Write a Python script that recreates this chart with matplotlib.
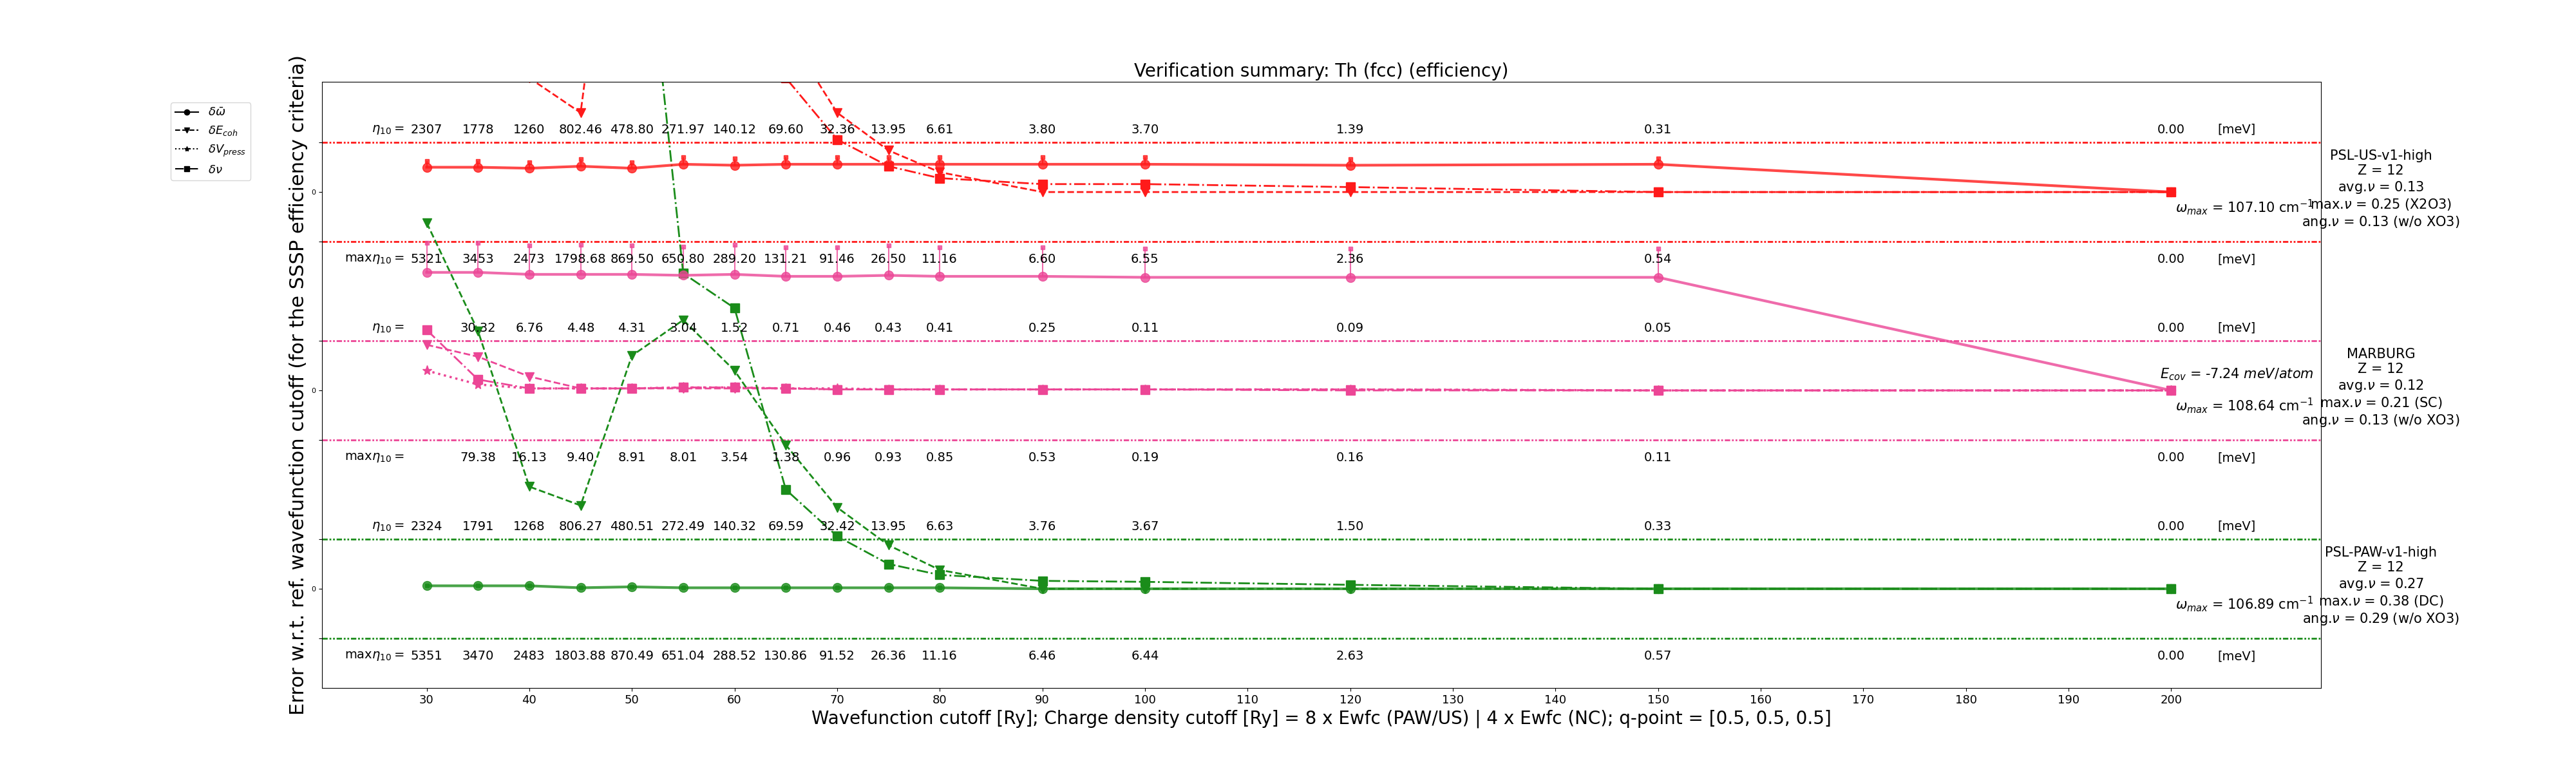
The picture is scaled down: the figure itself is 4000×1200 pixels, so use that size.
import numpy as np
import matplotlib
matplotlib.use("Agg")
import matplotlib.pyplot as plt
from matplotlib.lines import Line2D

# cutoffs
cutoffs = [30, 35, 40, 45, 50, 55, 60, 65, 70, 75, 80, 90, 100, 120, 150, 200]

# pseudos (top -> bottom), offsets in band units
names = ["PSL-US-v1-high", "MARBURG", "PSL-PAW-v1-high"]
colors = ["#ff1a1a", "#ec4696", "#1a8c1a"]
offsets = [4, 2, 0]

# normalized curves
omega = [
    [0.25, 0.25, 0.24, 0.26, 0.24, 0.28, 0.27, 0.28, 0.28, 0.28, 0.28, 0.28, 0.28, 0.27, 0.28, 0.0],
    [1.19, 1.19, 1.17, 1.17, 1.17, 1.16, 1.17, 1.15, 1.15, 1.16, 1.15, 1.15, 1.14, 1.14, 1.14, 0.0],
    [0.03, 0.03, 0.03, 0.01, 0.02, 0.01, 0.01, 0.01, 0.01, 0.01, 0.01, 0.0, 0.0, 0.0, 0.0, 0.0],
]
omega_err = [
    [0.06, 0.06, 0.06, 0.07, 0.06, 0.07, 0.07, 0.07, 0.07, 0.07, 0.07, 0.07, 0.07, 0.06, 0.06, 0.0],
    [0.30, 0.30, 0.29, 0.30, 0.29, 0.29, 0.30, 0.29, 0.29, 0.30, 0.29, 0.29, 0.29, 0.29, 0.29, 0.0],
    [0.0] * 16,
]
ecoh = [
    [2.0, 1.6, 1.15, 0.80, 4.7, 5.0, 3.0, 1.62, 0.80, 0.42, 0.20, 0.0, 0.0, 0.0, 0.0, 0.0],
    [0.46, 0.34, 0.14, 0.02, 0.02, 0.02, 0.02, 0.02, 0.01, 0.01, 0.01, 0.01, 0.01, 0.01, 0.0, 0.0],
    [3.69, 2.60, 1.03, 0.84, 2.35, 2.71, 2.20, 1.45, 0.82, 0.44, 0.19, 0.0, 0.0, 0.0, 0.0, 0.0],
]
vpress = [
    None,
    [0.20, 0.06, 0.02, 0.02, 0.02, 0.03, 0.03, 0.02, 0.02, 0.01, 0.01, 0.01, 0.01, 0.01, 0.0, 0.0],
    None,
]
nu = [
    [6.0, 5.0, 4.0, 3.5, 3.2, 3.0, 2.0, 1.15, 0.53, 0.26, 0.14, 0.08, 0.08, 0.05, 0.0, 0.0],
    [0.61, 0.11, 0.02, 0.02, 0.02, 0.03, 0.03, 0.02, 0.01, 0.01, 0.01, 0.01, 0.01, 0.0, 0.0, 0.0],
    [20.0, 15.0, 12.0, 10.0, 8.0, 3.18, 2.83, 1.0, 0.53, 0.25, 0.14, 0.08, 0.07, 0.04, 0.0, 0.0],
]

eta = [
    ["2307", "1778", "1260", "802.46", "478.80", "271.97", "140.12", "69.60", "32.36", "13.95", "6.61", "3.80", "3.70", "1.39", "0.31", "0.00"],
    ["", "30.32", "6.76", "4.48", "4.31", "3.04", "1.52", "0.71", "0.46", "0.43", "0.41", "0.25", "0.11", "0.09", "0.05", "0.00"],
    ["2324", "1791", "1268", "806.27", "480.51", "272.49", "140.32", "69.59", "32.42", "13.95", "6.63", "3.76", "3.67", "1.50", "0.33", "0.00"],
]
max_eta = [
    ["5321", "3453", "2473", "1798.68", "869.50", "650.80", "289.20", "131.21", "91.46", "26.50", "11.16", "6.60", "6.55", "2.36", "0.54", "0.00"],
    ["", "79.38", "16.13", "9.40", "8.91", "8.01", "3.54", "1.38", "0.96", "0.93", "0.85", "0.53", "0.19", "0.16", "0.11", "0.00"],
    ["5351", "3470", "2483", "1803.88", "870.49", "651.04", "288.52", "130.86", "91.52", "26.36", "11.16", "6.46", "6.44", "2.63", "0.57", "0.00"],
]
omega_max = ["107.10", "108.64", "106.89"]
info = [
    "PSL-US-v1-high\nZ = 12\navg.$\\nu$ = 0.13\nmax.$\\nu$ = 0.25 (X2O3)\nang.$\\nu$ = 0.13 (w/o XO3)",
    "MARBURG\nZ = 12\navg.$\\nu$ = 0.12\nmax.$\\nu$ = 0.21 (SC)\nang.$\\nu$ = 0.13 (w/o XO3)",
    "PSL-PAW-v1-high\nZ = 12\navg.$\\nu$ = 0.27\nmax.$\\nu$ = 0.38 (DC)\nang.$\\nu$ = 0.29 (w/o XO3)",
]

fig = plt.figure(figsize=(40, 12), dpi=100)
ax = fig.add_axes([0.125, 0.11, 0.776, 0.784])
x = np.array(cutoffs)
thr_style = (0, (3, 1, 1, 1, 1, 1))

for i, c in enumerate(colors):
    off = offsets[i]
    ax.errorbar(x, np.array(omega[i]) + off, yerr=[np.zeros(16), omega_err[i]],
                color=c, marker="o", ms=10, lw=3, alpha=0.8, capsize=0, elinewidth=1.5)
    ax.plot(x, np.array(omega_err[i]) + np.array(omega[i]) + off, ls="none",
            marker="s", ms=5, color=c, alpha=0.8)
    ax.plot(x, np.array(ecoh[i]) + off, color=c, ls="--", lw=2, marker="v", ms=10)
    if vpress[i] is not None:
        ax.plot(x, np.array(vpress[i]) + off, color=c, ls=":", lw=2.5, marker="*", ms=11)
    ax.plot(x, np.array(nu[i]) + off, color=c, ls="-.", lw=2, marker="s", ms=10)
    ax.axhline(off + 0.5, color=c, ls=thr_style, lw=2)
    ax.axhline(off - 0.5, color=c, ls=thr_style, lw=2)

    for xv, e, m in zip(cutoffs, eta[i], max_eta[i]):
        ax.text(xv, off + 0.63, e, ha="center", va="center", fontsize=14)
        ax.text(xv, off - 0.68, m, ha="center", va="center", fontsize=14)
    ax.text(27.8, off + 0.63, r"$\eta_{10} = $", ha="right", va="center", fontsize=14)
    ax.text(27.8, off - 0.68, r"max$\eta_{10} = $", ha="right", va="center", fontsize=14)
    ax.text(206.4, off + 0.63, "[meV]", ha="center", va="center", fontsize=14)
    ax.text(206.4, off - 0.68, "[meV]", ha="center", va="center", fontsize=14)
    ax.text(200.4, off - 0.15, r"$\omega_{max}$ = " + omega_max[i] + r" cm$^{-1}$",
            ha="left", va="center", fontsize=15)
    ax.text(1.03, (off + 1.0) / 6.11 + 0.004, info[i], transform=ax.transAxes,
            ha="center", va="center", fontsize=15, clip_on=False)

ax.text(198.9, 2.16, r"$E_{cov}$ = -7.24 $meV/atom$", ha="left", va="center", fontsize=15)

leg_h = [Line2D([], [], color="k", ls="-", marker="o"),
         Line2D([], [], color="k", ls="--", marker="v"),
         Line2D([], [], color="k", ls=":", marker="*"),
         Line2D([], [], color="k", ls="-.", marker="s")]
leg_l = [r"$\delta\bar{\omega}$", r"$\delta E_{coh}$", r"$\delta V_{press}$", r"$\delta\nu$"]
fig.legend(leg_h, leg_l, loc="upper left", bbox_to_anchor=(0.064, 0.875), fontsize=13)

ax.set_xlim(19.8, 214.6)
ax.set_ylim(-1.0, 5.11)
ax.set_xticks(range(30, 201, 10))
ax.tick_params(axis="x", labelsize=13)
yt = []
yl = []
for off in offsets:
    yt += [off - 0.5, off, off + 0.5]
    yl += ["", "0", ""]
ax.set_yticks(yt)
ax.set_yticklabels(yl, fontsize=8)
ax.set_title("Verification summary: Th (fcc) (efficiency)", fontsize=20)
ax.set_xlabel("Wavefunction cutoff [Ry]; Charge density cutoff [Ry] = 8 x Ewfc (PAW/US) | 4 x Ewfc (NC); q-point = [0.5, 0.5, 0.5]",
              fontsize=20)
ax.set_ylabel("Error w.r.t. ref. wavefunction cutoff (for the SSSP efficiency criteria)", fontsize=22)

fig.savefig("out.png")
